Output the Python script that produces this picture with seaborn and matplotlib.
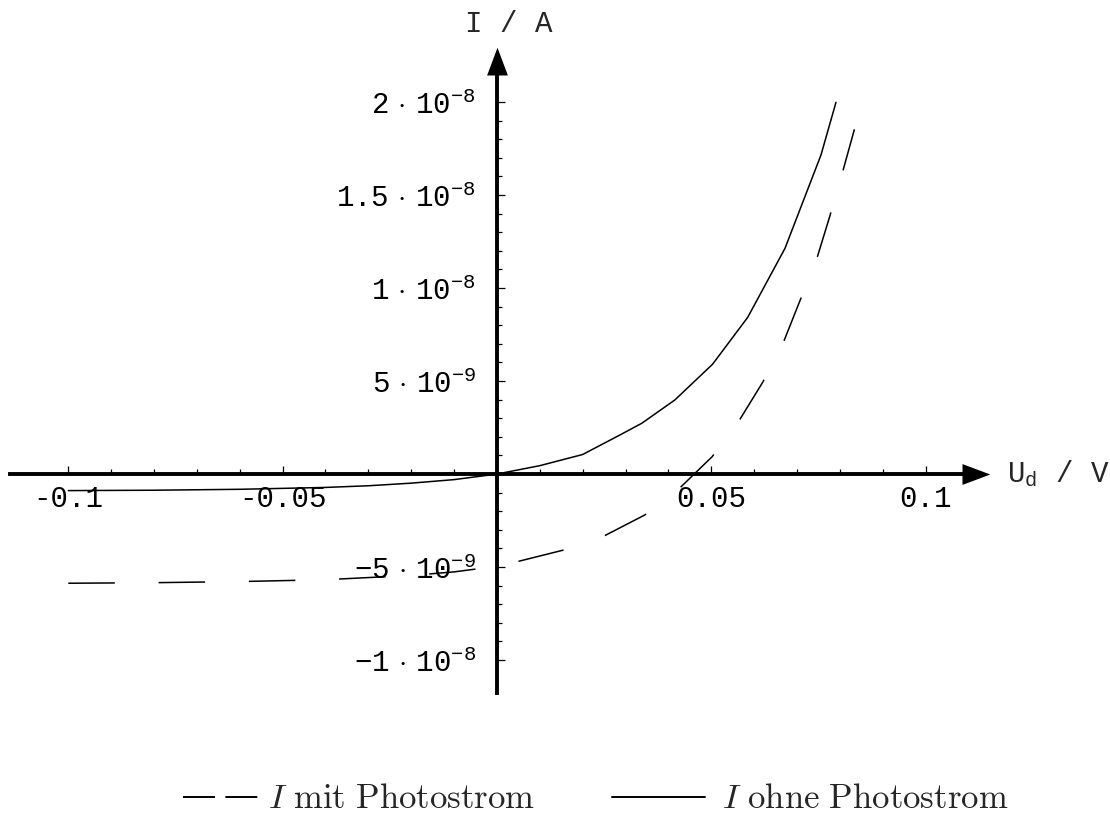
import matplotlib
matplotlib.use("Agg")
import matplotlib.pyplot as plt
import numpy as np
import pandas as pd
import seaborn as sns
from matplotlib.lines import Line2D
from matplotlib.ticker import FixedLocator, FixedFormatter

# Diodenkennlinie: Spannung U_d in V, Strom in nA
u_ohne = [-0.1, -0.08, -0.06, -0.04, -0.03, -0.02, -0.01, 0.0, 0.01, 0.02,
          0.0287, 0.0338, 0.0415, 0.0503, 0.0585, 0.0672, 0.0756, 0.0791]
i_ohne = [-0.89, -0.87, -0.82, -0.72, -0.63, -0.49, -0.30, 0.0, 0.45, 1.05,
          2.1, 2.73, 3.98, 5.9, 8.42, 12.13, 17.15, 19.98]

u_mit = [-0.1, -0.08, -0.06, -0.04, -0.02, -0.01, 0.0, 0.0049, 0.0153, 0.025,
         0.0345, 0.0427, 0.0502, 0.0565, 0.062, 0.0668, 0.0707, 0.0746,
         0.0777, 0.0806, 0.0834]
i_mit = [-5.87, -5.84, -5.78, -5.68, -5.45, -5.26, -4.96, -4.70, -4.10, -3.33,
         -2.20, -0.74, 0.93, 2.87, 4.93, 7.06, 9.32, 11.56,
         13.89, 16.2, 18.53]

x_ticks = [-0.1, -0.05, 0.05, 0.1]
x_labels = ['-0.1', '-0.05', '0.05', '0.1']
y_ticks = [-1e-8, -5e-9, 5e-9, 1e-8, 1.5e-8, 2e-8]
y_labels = [r'$-1\ \cdot\ 10^{-8}$', r'$-5\ \cdot\ 10^{-9}$',
            r'$5\ \cdot\ 10^{-9}$', r'$1\ \cdot\ 10^{-8}$',
            r'$1.5\ \cdot\ 10^{-8}$', r'$2\ \cdot\ 10^{-8}$']

legend_labels = [r'$I\ \mathrm{mit\ Photostrom}$', r'$I\ \mathrm{ohne\ Photostrom}$']

sns.set_style("white")
plt.rcParams['font.family'] = ['Liberation Mono', 'DejaVu Sans']
plt.rcParams['mathtext.fontset'] = 'custom'
plt.rcParams['mathtext.rm'] = 'Liberation Mono'
plt.rcParams['mathtext.it'] = 'Liberation Mono'
plt.rcParams['mathtext.bf'] = 'Liberation Mono:bold'
plt.rcParams['lines.scale_dashes'] = False

df_ohne = pd.DataFrame({'U': u_ohne, 'I': np.array(i_ohne) * 1e-9})
df_mit = pd.DataFrame({'U': u_mit, 'I': np.array(i_mit) * 1e-9})

fig = plt.figure(figsize=(11.1, 8.23), dpi=100)
ax = fig.add_axes([10 / 1110, 1 - 693 / 823, 952 / 1110, 618 / 823])

sns.lineplot(data=df_ohne, x='U', y='I', ax=ax, color='black', linewidth=1.1,
             estimator=None, zorder=4)
sns.lineplot(data=df_mit, x='U', y='I', ax=ax, color='black', linewidth=1.1,
             estimator=None, zorder=4)
ax.lines[-1].set_dashes((33.5, 31.5))
ax.lines[-1].set_dash_capstyle('butt')

ax.set_xlim(-0.1136, 0.1085)
ax.set_ylim(-1.177e-8, 2.145e-8)
ax.set_xlabel('')
ax.set_ylabel('')

# Achsen durch den Ursprung
for side in ['top', 'right']:
    ax.spines[side].set_visible(False)
ax.spines['left'].set_position(('data', 0))
ax.spines['bottom'].set_position(('data', 0))
for side in ['left', 'bottom']:
    ax.spines[side].set_linewidth(2.8)
    ax.spines[side].set_color('black')

ax.xaxis.set_major_locator(FixedLocator(x_ticks))
ax.xaxis.set_major_formatter(FixedFormatter(x_labels))
ax.xaxis.set_minor_locator(FixedLocator(np.round(np.arange(-0.1, 0.1001, 0.01), 3)))
ax.yaxis.set_major_locator(FixedLocator(y_ticks))
ax.yaxis.set_major_formatter(FixedFormatter(y_labels))
ax.yaxis.set_minor_locator(FixedLocator(np.arange(-10, 21) * 1e-9))

ax.tick_params(which='both', bottom=True, left=True, direction='in', width=0.9,
               color='black', labelcolor='black', labelsize=21)
ax.tick_params(which='major', length=6)
ax.tick_params(which='minor', length=3.5)
ax.tick_params(axis='x', pad=8)
ax.tick_params(axis='y', pad=15)

# Pfeilspitzen
ax.plot([1], [0], transform=ax.get_yaxis_transform(), clip_on=False, color='black',
        marker=[(0, -0.375), (1, 0), (0, 0.375), (0, -0.375)], markersize=40, mew=0)
ax.plot([0], [1], transform=ax.get_xaxis_transform(), clip_on=False, color='black',
        marker=[(-0.375, 0), (0, 1), (0.375, 0), (-0.375, 0)], markersize=40, mew=0)

ax.text(0.0028, 2.42e-8, 'I / A', ha='center', va='center', fontsize=21, clip_on=False)
ax.text(0.119, 0, r'U$_\mathrm{d}$ / V', ha='left', va='center', fontsize=21, clip_on=False)

# Legende unten
ly = 1 - 797 / 823
fig.add_artist(Line2D([183 / 1110, 258 / 1110], [ly, ly], transform=fig.transFigure,
                      color='black', lw=1.4, dashes=(23, 7.5)))
fig.add_artist(Line2D([612 / 1110, 705 / 1110], [ly, ly], transform=fig.transFigure,
                      color='black', lw=1.4))
fig.text(268 / 1110, 1 - 808 / 823, legend_labels[0], fontsize=25, va='baseline',
         math_fontfamily='cm')
fig.text(722 / 1110, 1 - 808 / 823, legend_labels[1], fontsize=25, va='baseline',
         math_fontfamily='cm')

fig.savefig('out.png', dpi=100, facecolor='white')
